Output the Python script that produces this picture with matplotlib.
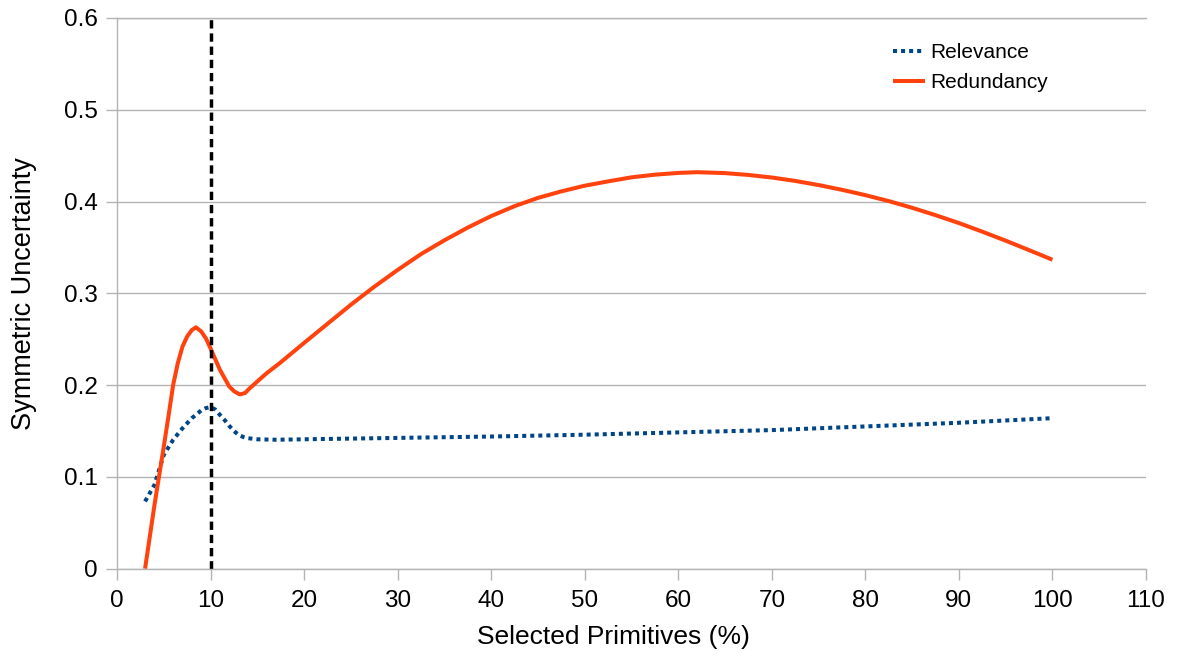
import matplotlib
matplotlib.use("Agg")
import matplotlib.pyplot as plt

plt.rcParams['font.family'] = ['Liberation Sans', 'DejaVu Sans']

# values
red_x = [3, 4, 5, 5.5, 6, 6.5, 7, 7.5, 8, 8.44, 9, 9.5, 10, 11, 12, 12.5, 13,
         13.2, 13.7, 14, 15, 16, 17.4, 20, 22.5, 25, 27.5, 30, 32.5, 35, 37.5,
         40, 42.5, 45, 47.5, 50, 52.5, 55, 57.5, 60, 62, 65, 67.5, 70, 72.5,
         75, 77.5, 80, 82.5, 85, 87.5, 90, 92.5, 95, 97.5, 100]
red_y = [0.0, 0.069, 0.133, 0.166, 0.200, 0.224, 0.242, 0.253, 0.260, 0.263,
         0.2585, 0.251, 0.240, 0.2167, 0.1985, 0.1935, 0.1905, 0.190, 0.1915,
         0.1948, 0.204, 0.213, 0.224, 0.246, 0.2668, 0.2876, 0.3072, 0.3255,
         0.3428, 0.3578, 0.3717, 0.3842, 0.3950, 0.4040, 0.4111, 0.4173, 0.422,
         0.4264, 0.4293, 0.4312, 0.432, 0.431, 0.429, 0.4262, 0.4225, 0.418,
         0.4128, 0.407, 0.4005, 0.3932, 0.3852, 0.3766, 0.3672, 0.3574,
         0.3471, 0.3366]

blue_x = [3, 4, 5, 6, 7, 8, 9, 9.5, 10, 10.5, 11, 11.5, 12, 12.5, 13, 13.5,
          14, 15, 17, 20, 30, 40, 50, 60, 70, 80, 90, 100]
blue_y = [0.0733, 0.0913, 0.124, 0.1404, 0.153, 0.164, 0.1724, 0.175, 0.176,
          0.1735, 0.1676, 0.162, 0.1556, 0.150, 0.1458, 0.1435, 0.1422, 0.141,
          0.1405, 0.141, 0.1425, 0.144, 0.146, 0.1485, 0.151, 0.155, 0.159,
          0.164]

cut_x = 10
labels = ['Relevance', 'Redundancy']
xticks = list(range(0, 111, 10))
yticks = [0, 0.1, 0.2, 0.3, 0.4, 0.5, 0.6]
ytick_labels = ['0', '0.1', '0.2', '0.3', '0.4', '0.5', '0.6']

gray = '#b3b3b3'

fig = plt.figure(figsize=(11.81, 6.64), dpi=100)
ax = fig.add_axes([117 / 1181, 1 - 568.7 / 664, 1029 / 1181, 550.7 / 664])

ax.plot(blue_x, blue_y, color='#004586', lw=2.9, linestyle=(0, (1, 1)), label=labels[0])
ax.plot(red_x, red_y, color='#ff420e', lw=2.9, label=labels[1], solid_capstyle='butt')
ax.axvline(cut_x, color='black', lw=2.5, linestyle=(0, (2.4, 1.4)))

ax.set_xlim(0, 110)
ax.set_ylim(0, 0.6)
ax.set_xticks(xticks)
ax.set_yticks(yticks)
ax.set_yticklabels(ytick_labels)
ax.yaxis.grid(True, color=gray, lw=1.0)
ax.set_axisbelow(True)

for s in ['left', 'bottom', 'top']:
    ax.spines[s].set_color(gray)
    ax.spines[s].set_linewidth(1.0)
ax.spines['right'].set_visible(False)

ax.tick_params(axis='both', direction='out', length=8, width=1.0, color=gray,
               labelsize=17.5, labelcolor='black')
ax.tick_params(axis='x', pad=7)
ax.tick_params(axis='y', pad=6)

ax.set_xlabel('Selected Primitives (%)', fontsize=19)
ax.set_ylabel('Symmetric Uncertainty', fontsize=19.5)
ax.xaxis.set_label_coords(0.482, -0.102)
ax.yaxis.set_label_coords(-0.0777, 0.5)

leg = ax.legend(loc='upper left', bbox_to_anchor=(893 / 1181, 1 - 43 / 664),
                bbox_transform=fig.transFigure, frameon=False, fontsize=15,
                handlelength=1.55, handletextpad=0.25, labelspacing=0.55,
                borderpad=0, borderaxespad=0)

fig.savefig('out.png', dpi=100)
